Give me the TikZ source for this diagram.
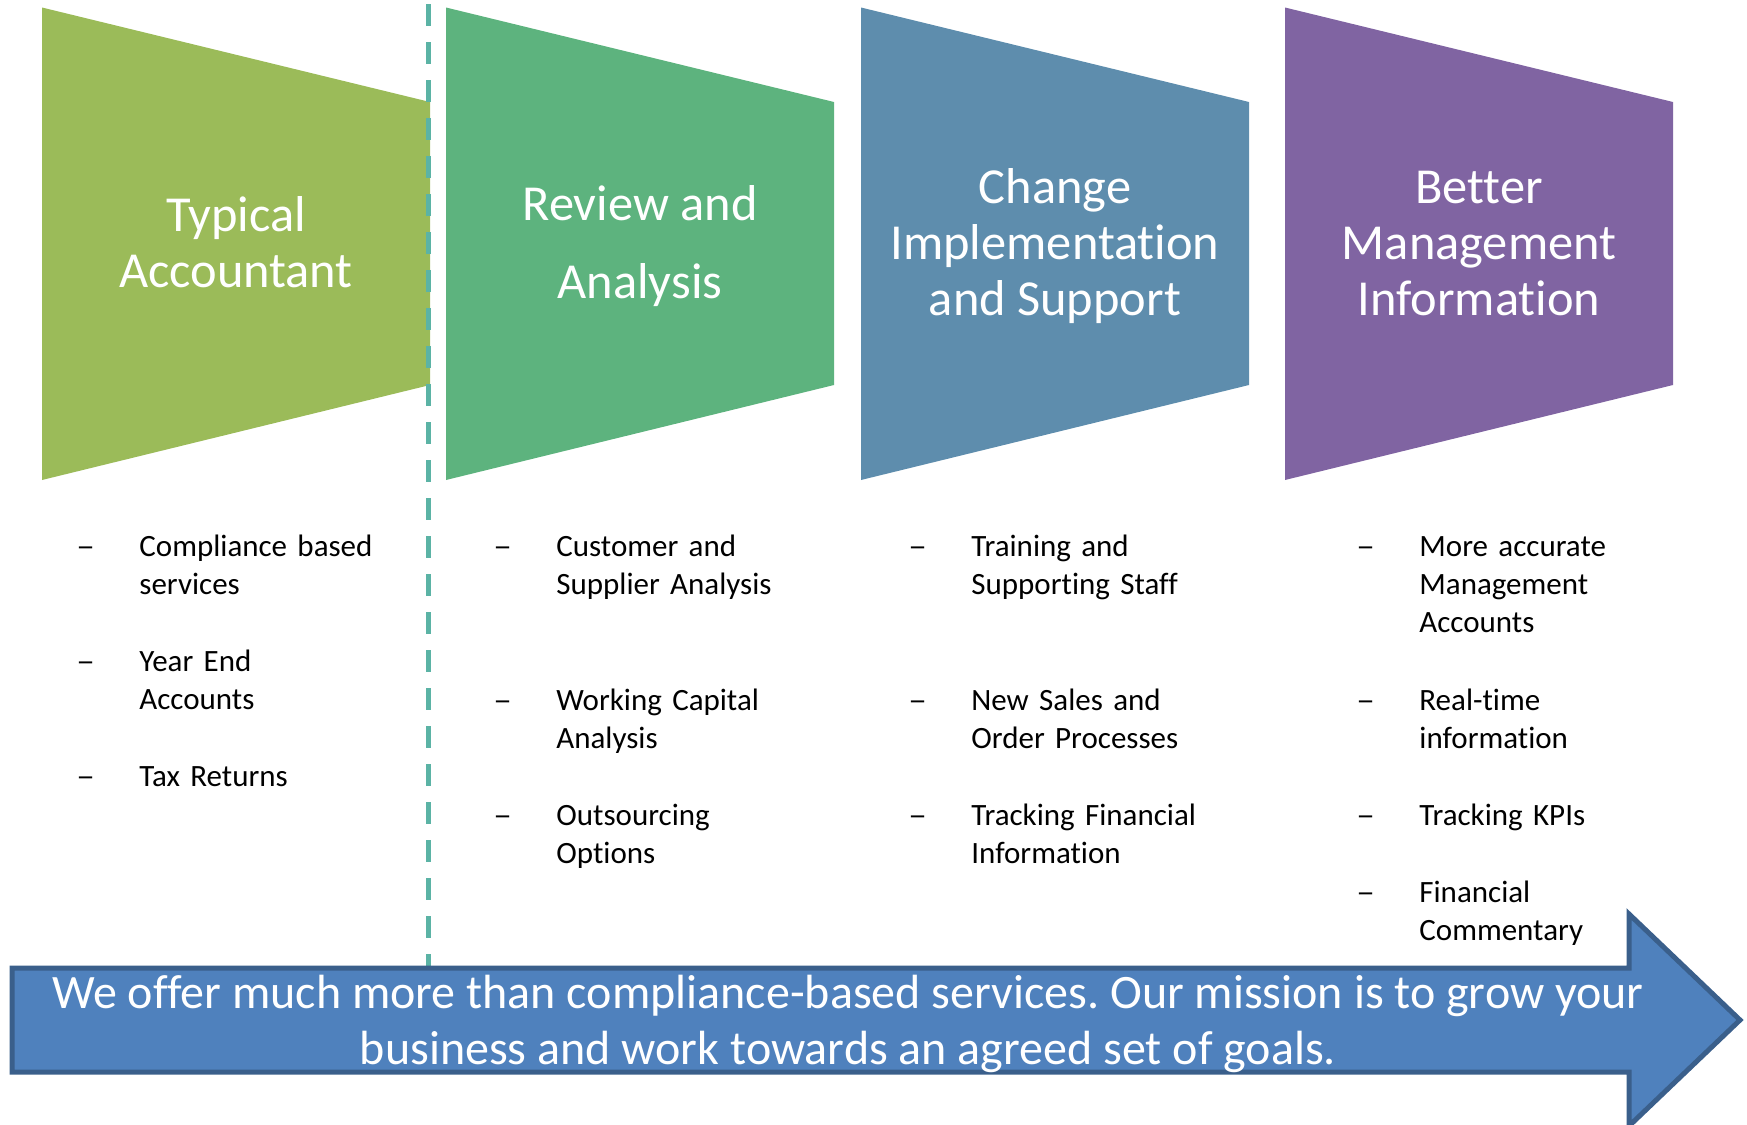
\documentclass[tikz,border=0pt]{standalone}
\usepackage{fontspec}
\setmainfont{Carlito}[Ligatures=NoCommon]
\frenchspacing
\usetikzlibrary{positioning,calc}
\definecolor{stageA}{HTML}{9BBB59}
\definecolor{stageB}{HTML}{5DB37E}
\definecolor{stageC}{HTML}{5E8DAD}
\definecolor{stageD}{HTML}{8064A2}
\definecolor{divline}{HTML}{5BB3A5}
\definecolor{arrfill}{HTML}{4F81BD}
\definecolor{arrline}{HTML}{3A5F8B}

\begin{document}
\begin{tikzpicture}[
  x=0.5pt, y=-0.5pt,
  ttl/.style  ={text=white, align=center, inner sep=0pt,
                font=\fontsize{25.2}{28}\selectfont},
  itm/.style  ={anchor=base west, align=left, inner sep=0pt, text width=150pt,
                font=\fontsize{15.5}{19.2}\selectfont},
  dsh/.style  ={anchor=base west, inner sep=0pt,
                font=\fontsize{15.5}{19.2}\selectfont},
  divider/.style={draw=divline, line width=2.5pt, dash pattern=on 11pt off 8pt},
  mission/.style={fill=arrfill, draw=arrline, line width=2.5pt, line join=miter},
  msg/.style  ={text=white, align=center, inner sep=0pt,
                font=\fontsize{24}{28}\selectfont}]
\useasboundingbox (0,0) rectangle (1747,1125);

% the four stages
\foreach \x/\c in {42/stageA, 446/stageB, 861/stageC, 1285/stageD}
  \fill[\c] (\x,7.5) -- (\x+388,102) -- (\x+388,385) -- (\x,480) -- cycle;

\node[ttl] (typ) at (236,242) {Typical\\Accountant};
\node[ttl] (rev) at (640,246) {Review and\\[11pt]Analysis};
\node[ttl] (chg) at (1055,246) {Change\\Implementation\\and Support};
\node[ttl] (bmi) at (1479,244) {Better\\Management\\Information};

% bullet lists
\node[itm] (c1a) at (139,556) {Compliance based\\services};
\node[itm] (c1b) at (139,671) {Year End\\Accounts};
\node[itm] (c1c) at (139,786) {Tax Returns};

\node[itm] (c2a) at (556,556) {Customer and\\Supplier Analysis};
\node[itm] (c2b) at (556,710) {Working Capital\\Analysis};
\node[itm] (c2c) at (556,825) {Outsourcing\\Options};

\node[itm] (c3a) at (971,556) {Training and\\Supporting Staff};
\node[itm] (c3b) at (971,710) {New Sales and\\Order Processes};
\node[itm] (c3c) at (971,825) {Tracking Financial\\Information};

\node[itm] (c4a) at (1419,556) {More accurate\\Management\\Accounts};
\node[itm] (c4b) at (1419,710) {Real-time\\information};
\node[itm] (c4c) at (1419,825) {Tracking KPIs};
\node[itm] (c4d) at (1419,902) {Financial\\Commentary};

\foreach \n in {c1a,c1b,c1c,c2a,c2b,c2c,c3a,c3b,c3c,c4a,c4b,c4c,c4d}
  \node[dsh] (d-\n) at ($(\n.base west)+(-63,0)$) {\scalebox{1.2}[1]{–}};

\draw[divider] (428,4) -- (428,966);

% mission arrow
\filldraw[mission] (12,968) -- (1629,968) -- (1629,914) -- (1740,1020)
  -- (1629,1126) -- (1629,1072) -- (12,1072) -- cycle;
\node[msg] (goal) at (848,1024) {We offer much more than compliance-based
  services. Our mission is to grow your\\business and work towards an agreed
  set of goals.};
\end{tikzpicture}
\end{document}
